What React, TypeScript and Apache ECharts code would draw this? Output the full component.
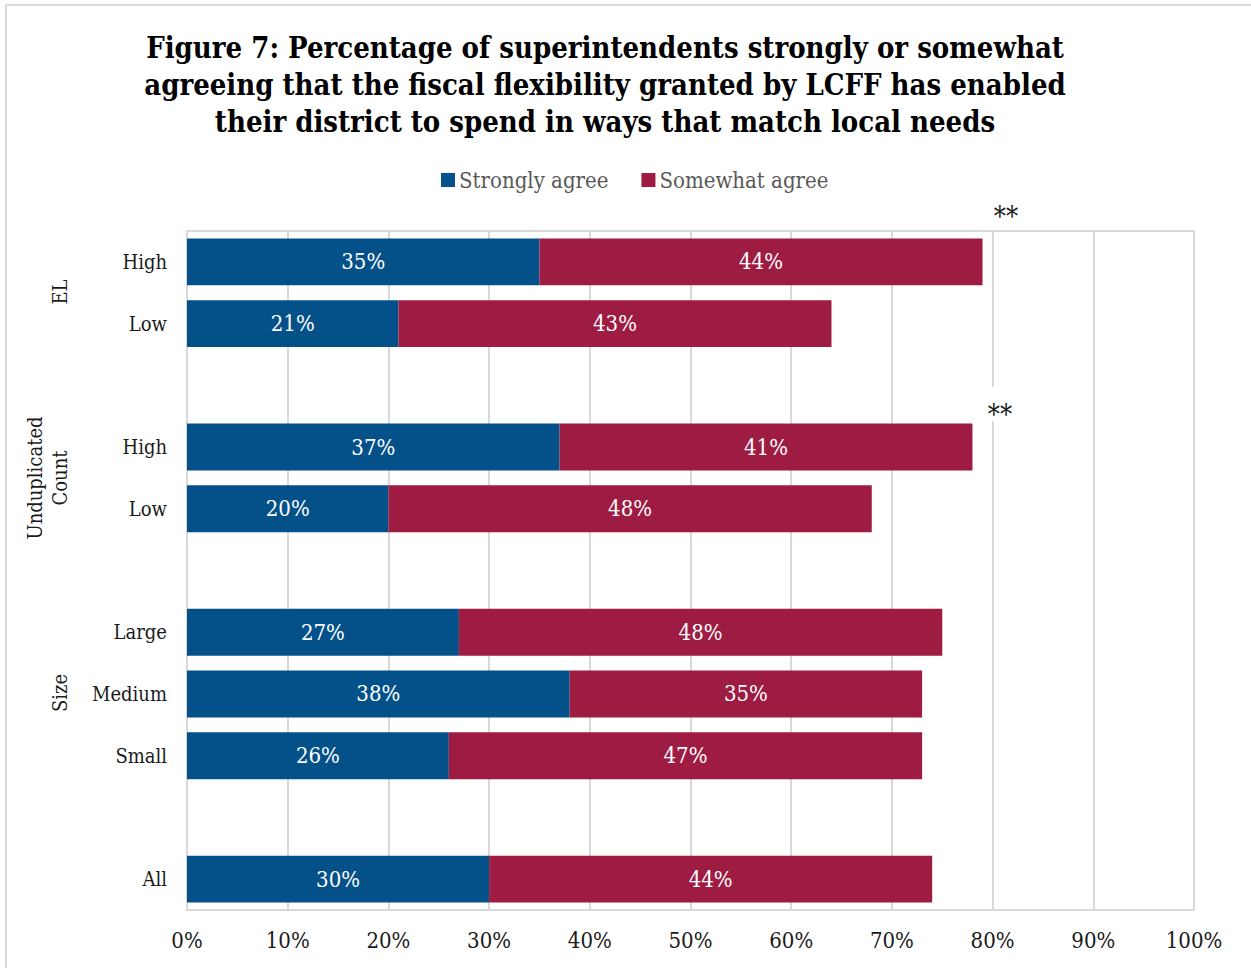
import React, { useEffect, useRef } from "react";
import * as echarts from "echarts";

const categories = ["High", "Low", "", "High", "Low", "", "Large", "Medium", "Small", "", "All"];
const stronglyAgree: (number | null)[] = [35, 21, null, 37, 20, null, 27, 38, 26, null, 30];
const somewhatAgree: (number | null)[] = [44, 43, null, 41, 48, null, 48, 35, 47, null, 44];
const xTicks = [0, 10, 20, 30, 40, 50, 60, 70, 80, 90, 100];
const seriesNames = ["Strongly agree", "Somewhat agree"];
const groupLabels = ["EL", "Unduplicated\nCount", "Size"];

const FONT = '"DejaVu Serif Condensed", "DejaVu Serif", serif';
const BLUE = "#04518A";
const RED = "#9E1B42";
const GRID = "#D9D9D9";

export default function App() {
  const ref = useRef<HTMLDivElement>(null);
  useEffect(() => {
    document.body.style.margin = "0";
    const chart = echarts.init(ref.current!, null, { renderer: "svg" });
    const label = {
      show: true,
      position: "inside",
      color: "#FFFFFF",
      fontFamily: FONT,
      fontSize: 22,
      formatter: (p: any) => `${p.value}%`,
    };
    chart.setOption({
      animation: false,
      backgroundColor: "#FFFFFF",
      textStyle: { fontFamily: FONT },
      title: {
        text: "Figure 7: Percentage of superintendents strongly or somewhat\nagreeing that the fiscal flexibility granted by LCFF has enabled\ntheir district to spend in ways that match local needs",
        left: 600,
        top: 24,
        textAlign: "center",
        textStyle: {
          fontFamily: FONT,
          fontWeight: "bold",
          fontSize: 29,
          lineHeight: 37,
          color: "#000000",
        },
      },
      legend: {
        data: seriesNames,
        top: 164,
        left: 436,
        icon: "rect",
        itemWidth: 14,
        itemHeight: 14,
        itemGap: 33,
        textStyle: { fontFamily: FONT, fontSize: 22, color: "#595959", padding: [0, 0, 0, -1] },
      },
      grid: {
        left: 187,
        right: 57,
        top: 231,
        bottom: 58,
        show: true,
        borderColor: GRID,
        borderWidth: 2,
        containLabel: false,
      },
      xAxis: {
        type: "value",
        min: xTicks[0],
        max: xTicks[xTicks.length - 1],
        interval: 10,
        axisLine: { show: false },
        axisTick: { show: false },
        splitLine: { show: true, lineStyle: { color: GRID, width: 2 } },
        axisLabel: {
          formatter: "{value}%",
          fontFamily: FONT,
          fontSize: 22,
          color: "#1A1A1A",
          margin: 19,
        },
      },
      yAxis: {
        type: "category",
        data: categories,
        inverse: true,
        axisLine: { show: true, lineStyle: { color: GRID, width: 2 } },
        axisTick: { show: false },
        axisLabel: { fontFamily: FONT, fontSize: 20, color: "#1A1A1A", margin: 20 },
      },
      series: [
        {
          name: seriesNames[0],
          type: "bar",
          stack: "total",
          data: stronglyAgree,
          barCategoryGap: "24%",
          itemStyle: { color: BLUE },
          label,
        },
        {
          name: seriesNames[1],
          type: "bar",
          stack: "total",
          data: somewhatAgree,
          barCategoryGap: "24%",
          itemStyle: { color: RED },
          label,
        },
      ],
      graphic: [
        {
          type: "rect",
          shape: { x: 6, y: 5, width: 1400, height: 1200 },
          style: { fill: "none", stroke: GRID, lineWidth: 2 },
          silent: true,
        },
        {
          type: "text",
          x: 60,
          y: 292,
          rotation: Math.PI / 2,
          style: { text: groupLabels[0], fontFamily: FONT, fontSize: 20, fill: "#1A1A1A", align: "center", verticalAlign: "middle" },
        },
        {
          type: "text",
          x: 47,
          y: 478,
          rotation: Math.PI / 2,
          style: { text: groupLabels[1], fontFamily: FONT, fontSize: 20, lineHeight: 25, fill: "#1A1A1A", align: "center", verticalAlign: "middle" },
        },
        {
          type: "text",
          x: 60,
          y: 693,
          rotation: Math.PI / 2,
          style: { text: groupLabels[2], fontFamily: FONT, fontSize: 20, fill: "#1A1A1A", align: "center", verticalAlign: "middle" },
        },
        {
          type: "text",
          x: 1006,
          y: 216,
          z: 100,
          style: { text: "**", fontFamily: FONT, fontSize: 27, fill: "#1A1A1A", align: "center", verticalAlign: "middle" },
        },
        {
          type: "rect",
          z: 99,
          shape: { x: 984, y: 387, width: 32, height: 34 },
          style: { fill: "#FFFFFF" },
          silent: true,
        },
        {
          type: "text",
          x: 1000,
          y: 414,
          z: 100,
          style: {
            text: "**",
            fontFamily: FONT,
            fontSize: 27,
            fill: "#1A1A1A",
            align: "center",
            verticalAlign: "middle",
          },
        },
      ],
    });
    return () => chart.dispose();
  }, []);
  return <div ref={ref} style={{ width: 1251, height: 968 }} />;
}
